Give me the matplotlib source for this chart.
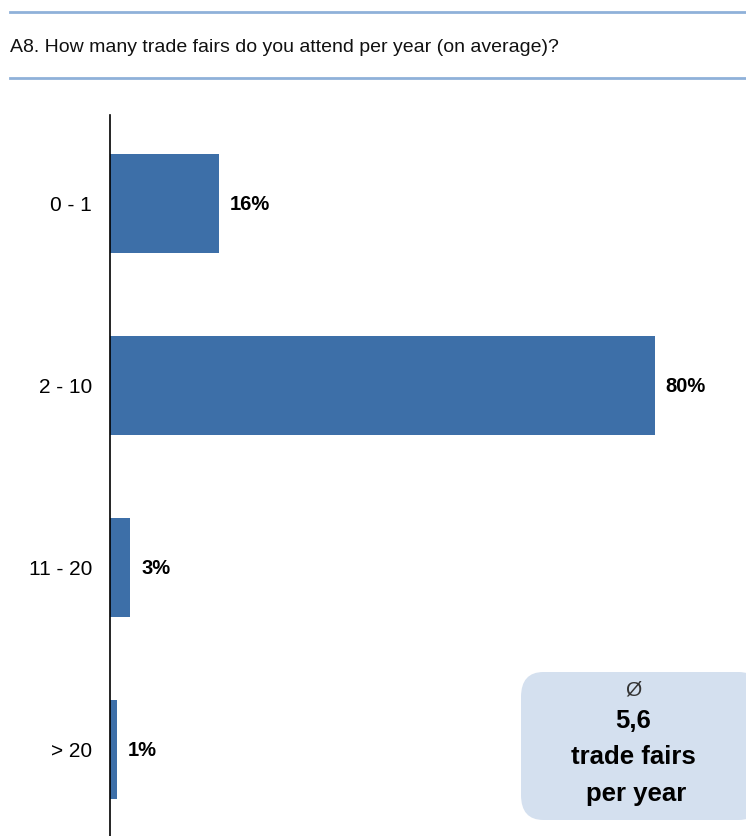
import matplotlib.pyplot as plt
from matplotlib.patches import FancyBboxPatch
from matplotlib.lines import Line2D

plt.rcParams['font.family'] = ['Liberation Sans', 'DejaVu Sans']

categories = ["0 - 1", "2 - 10", "11 - 20", "> 20"]
shares = [16, 80, 3, 1]
avg_text = "5,6"

bar_color = "#3d6fa8"
rule_color = "#8fb1d9"

fig = plt.figure(figsize=(7.46, 8.36), dpi=100)

# header rules and question text
fig.add_artist(Line2D([10/746, 1], [1 - 12/836] * 2, color=rule_color, lw=2))
fig.add_artist(Line2D([10/746, 1], [1 - 78/836] * 2, color=rule_color, lw=2))
fig.text(10/746, 1 - 48/836, "A8. How many trade fairs do you attend per year (on average)?",
         fontsize=14, va="center", ha="left", color="#111111")

ax = fig.add_axes([110/746, 0, 636/746, 1 - 115/836])
ypos = list(range(len(categories)))
ax.barh(ypos, shares, height=0.544, color=bar_color)
ax.set_xlim(0, 636 / 6.81)
ax.set_ylim(3.475, -0.486)
ax.set_yticks(ypos)
ax.set_yticklabels(categories, fontsize=15)
ax.tick_params(axis="y", length=0, pad=13)
ax.set_xticks([])
for s in ["top", "right", "bottom"]:
    ax.spines[s].set_visible(False)
ax.spines["left"].set_linewidth(1.2)

for y, v in zip(ypos, shares):
    ax.text(v + 1.6, y + 0.005, f"{v}%", va="center", ha="left", fontsize=14.5, fontweight="bold")

# average box
box = FancyBboxPatch((521/746, 1 - 820/836), 240/746, 148/836,
                     boxstyle="round,pad=0,rounding_size=0.03",
                     transform=fig.transFigure, facecolor="#d4e0ef", edgecolor="none",
                     clip_on=False)
fig.add_artist(box)
fig.text(633/746, 1 - 690/836, "Ø", ha="center", va="center", fontsize=15, color="#333333")
fig.text(633/746, 1 - 721/836, avg_text, ha="center", va="center", fontsize=18.5, fontweight="bold")
fig.text(633/746, 1 - 757/836, "trade fairs", ha="center", va="center", fontsize=18.5, fontweight="bold")
fig.text(636/746, 1 - 794/836, "per year", ha="center", va="center", fontsize=18.5, fontweight="bold")

fig.savefig("out.png", dpi=100)
